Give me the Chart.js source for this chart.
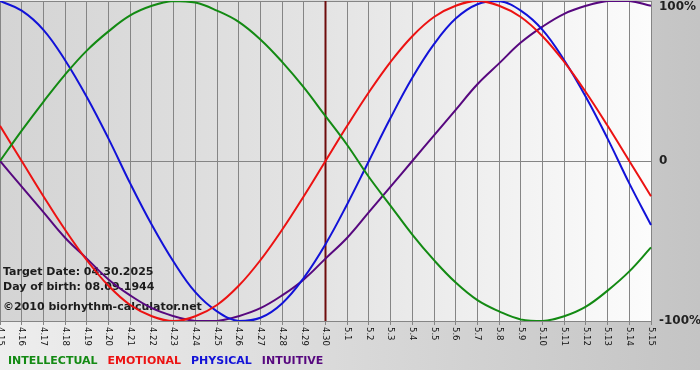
<!DOCTYPE html>
<html>
<head>
<meta charset="utf-8">
<script src="https://cdn.jsdelivr.net/npm/chart.js@4"></script>
<style>
  html, body { margin: 0; padding: 0; background: #ffffff; }
  #wrap { width: 700px; height: 380px; position: relative; }
</style>
</head>
<body>
<div id="wrap"><canvas id="bioChart"></canvas></div>
<script>
// days shown on the x axis (month.day)
const dayLabels = ['4.15', '4.16', '4.17', '4.18', '4.19', '4.20', '4.21', '4.22', '4.23', '4.24',
    '4.25', '4.26', '4.27', '4.28', '4.29', '4.30', '5.1', '5.2', '5.3', '5.4', '5.5', '5.6',
    '5.7', '5.8', '5.9', '5.10', '5.11', '5.12', '5.13', '5.14', '5.15'];

// cycle values in percent, one per day
const intellectual = [0, 19, 37, 54, 69, 81, 91, 97, 100, 99, 94, 87, 76, 62, 46, 28,
    10, -10, -28, -46, -62, -76, -87, -94, -99, -100, -97, -91, -81, -69, -54];
const emotional = [22, 0, -22, -43, -62, -78, -90, -97, -100, -97, -90, -78, -62, -43, -22, 0,
    22, 43, 62, 78, 90, 97, 100, 97, 90, 78, 62, 43, 22, 0, -22];
const physical = [100, 94, 82, 63, 40, 14, -14, -40, -63, -82, -94, -100, -98, -89, -73, -52,
    -27, 0, 27, 52, 73, 89, 98, 100, 94, 82, 63, 40, 14, -14, -40];
const intuitive = [0, -16, -32, -48, -61, -74, -84, -92, -97, -100, -100, -97, -92, -84, -74, -61,
    -48, -32, -16, 0, 16, 32, 48, 61, 74, 84, 92, 97, 100, 100, 97];

const yTickLabels = { '100': '100%', '0': '0', '-100': '-100%' };
const targetIndex = 15;
const infoLines = ['Target Date: 04.30.2025', 'Day of birth: 08.09.1944', '\u00a92010 biorhythm-calculator.net'];

const greenColor = '#138a13';
const redColor = '#ec1212';
const blueColor = '#1212d8';
const purpleColor = '#57087f';
const gridColor = '#858585';
const boldFont = 'bold 11px "DejaVu Sans"';

const legendItems = [
    { text: 'INTELLECTUAL', color: greenColor },
    { text: 'EMOTIONAL', color: redColor },
    { text: 'PHYSICAL', color: blueColor },
    { text: 'INTUITIVE', color: purpleColor }
];

function series(label, data, color) {
    return {
        label: label,
        data: data,
        borderColor: color,
        borderWidth: 2,
        pointRadius: 0,
        tension: 0.4,
        fill: false
    };
}

// backgrounds: outer grey gradient, plot area light gradient
const backgroundPlugin = {
    id: 'background',
    beforeDraw(chart) {
        const ctx = chart.ctx;
        const area = chart.chartArea;
        ctx.save();
        ctx.fillStyle = '#ffffff';
        ctx.fillRect(0, 0, chart.width, chart.height);
        let g = ctx.createLinearGradient(0, 0, chart.width, 0);
        g.addColorStop(0, '#eeeeee');
        g.addColorStop(1, '#c4c4c4');
        ctx.fillStyle = g;
        ctx.fillRect(0, 0, chart.width, 370);
        g = ctx.createLinearGradient(area.left, 0, area.right, 0);
        g.addColorStop(0, '#d4d4d4');
        g.addColorStop(0.5, '#e4e4e4');
        g.addColorStop(1, '#fcfcfc');
        ctx.fillStyle = g;
        ctx.fillRect(area.left, area.top, area.right - area.left, area.bottom - area.top);
        ctx.restore();
    }
};

// texts and target line
const decorPlugin = {
    id: 'decor',
    beforeDatasetsDraw(chart) {
        const ctx = chart.ctx;
        const x = chart.scales.x;
        ctx.save();
        ctx.fillStyle = '#1c1c1c';
        ctx.font = boldFont;
        ctx.textBaseline = 'middle';
        ctx.fillText(infoLines[0], 3, 272);
        ctx.fillText(infoLines[1], 3, 287);
        ctx.fillText(infoLines[2], 3, 307);

        const tx = x.getPixelForValue(targetIndex);
        ctx.strokeStyle = '#6e0c0c';
        ctx.lineWidth = 2;
        ctx.beginPath();
        ctx.moveTo(tx, chart.chartArea.top);
        ctx.lineTo(tx, chart.chartArea.bottom);
        ctx.stroke();
        ctx.restore();
    },
    afterDraw(chart) {
        const ctx = chart.ctx;
        const x = chart.scales.x;
        const y = chart.scales.y;
        const area = chart.chartArea;
        ctx.save();

        // rotated day labels
        ctx.fillStyle = '#111111';
        ctx.font = '8.5px "DejaVu Sans"';
        ctx.textAlign = 'left';
        ctx.textBaseline = 'middle';
        dayLabels.forEach((lab, i) => {
            ctx.save();
            ctx.translate(x.getPixelForValue(i), area.bottom + 6);
            ctx.rotate(Math.PI / 2);
            ctx.fillText(lab, 0, 0);
            ctx.restore();
        });

        // percent labels on the right
        ctx.font = 'bold 12px "DejaVu Sans"';
        ctx.fillStyle = '#222222';
        Object.keys(yTickLabels).forEach(v => {
            let py = y.getPixelForValue(Number(v));
            if (py < area.top + 7) py = area.top + 6;
            ctx.fillText(yTickLabels[v], area.right + 8, py);
        });

        // legend
        ctx.font = boldFont;
        let lx = 8;
        legendItems.forEach(item => {
            ctx.fillStyle = item.color;
            ctx.fillText(item.text, lx, 361);
            lx += ctx.measureText(item.text).width + 10;
        });
        ctx.restore();
    }
};

const ctxBio = document.getElementById('bioChart');
new Chart(ctxBio, {
    type: 'line',
    data: {
        labels: dayLabels,
        datasets: [
            series('Intellectual', intellectual, greenColor),
            series('Emotional', emotional, redColor),
            series('Physical', physical, blueColor),
            series('Intuitive', intuitive, purpleColor)
        ]
    },
    options: {
        responsive: true,
        maintainAspectRatio: false,
        animation: false,
        layout: { padding: { left: 0, top: 1, right: 49, bottom: 55 } },
        plugins: {
            legend: { display: false },
            tooltip: { enabled: false }
        },
        scales: {
            x: {
                ticks: { display: false },
                border: { display: false },
                grid: { color: gridColor, lineWidth: 1, drawTicks: true, tickLength: 4 }
            },
            y: {
                min: -100,
                max: 100,
                ticks: { display: false, stepSize: 100 },
                border: { display: false },
                grid: { color: gridColor, lineWidth: 1, drawTicks: false }
            }
        }
    },
    plugins: [backgroundPlugin, decorPlugin]
});
</script>
</body>
</html>
